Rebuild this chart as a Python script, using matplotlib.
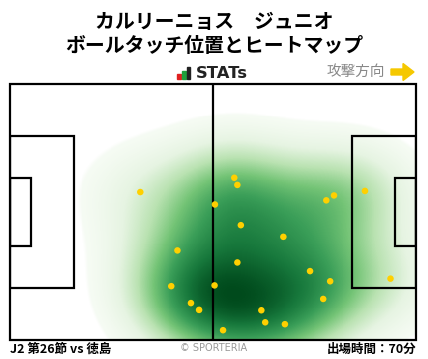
import numpy as np
import matplotlib
matplotlib.use("Agg")
import matplotlib.pyplot as plt
from matplotlib.patches import Rectangle, Polygon
from matplotlib.colors import LinearSegmentedColormap, Normalize

plt.rcParams['font.family'] = ['Noto Sans CJK JP', 'DejaVu Sans']

# Ball touch positions (metres, pitch 105 x 68, attacking to the right)
touch_x = [33.7, 58.0, 58.8, 53.0, 59.7, 43.3, 70.7, 58.8, 41.7, 52.9,
           46.8, 48.9, 55.1, 65.0, 66.0, 71.1, 77.6, 82.8, 81.0, 81.8,
           83.8, 91.8, 98.4]
touch_y = [39.3, 43.1, 41.2, 36.0, 30.5, 23.8, 27.4, 20.6, 14.3, 14.5,
           9.8, 8.0, 2.6, 7.9, 4.7, 4.2, 18.3, 15.6, 10.9, 37.1,
           38.4, 39.6, 16.3]

title_1 = "カルリーニョス　ジュニオ"
title_2 = "ボールタッチ位置とヒートマップ"
footer_left = "J2 第26節 vs 徳島"
footer_right = "出場時間：70分"

W, H = 428, 359
fig = plt.figure(figsize=(W / 100, H / 100), dpi=100)

# pitch axes
ax = fig.add_axes([10 / W, (H - 340) / H, 406 / W, 256 / H])
ax.set_xlim(0, 105)
ax.set_ylim(0, 68)
ax.axis('off')

# heatmap from a gaussian kernel over the touches
gx, gy = np.meshgrid(np.linspace(0, 105, 420), np.linspace(0, 68, 260))
dens = np.zeros_like(gx)
sx, sy = 12.0, 10.0
for px, py in zip(touch_x, touch_y):
    dens += np.exp(-((gx - px) ** 2 / (2 * sx ** 2) + (gy - py) ** 2 / (2 * sy ** 2)))
dens /= dens.max()
thr = 0.065
cmap = LinearSegmentedColormap.from_list(
    'g', ['#f7fcf5', '#e6f4e2', '#b9e2b1', '#74c476', '#3a9e58', '#17783c', '#004a1c'])
rgba = cmap(Normalize(thr, 1, clip=True)(dens))
rgba[..., 3] = np.clip((dens - thr) / 0.01, 0, 1)
ax.imshow(rgba, extent=(0, 105, 0, 68), origin='lower',
          aspect='auto', interpolation='nearest', zorder=1)

lw = 1.6
line_kw = dict(fill=False, ec='black', lw=lw, zorder=3)
ax.add_patch(Rectangle((0, 0), 105, 68, **line_kw, clip_on=False))
ax.plot([52.5, 52.5], [0, 68], color='black', lw=lw, zorder=3)
ax.add_patch(Rectangle((0, 13.84), 16.5, 40.32, **line_kw))
ax.add_patch(Rectangle((105 - 16.5, 13.84), 16.5, 40.32, **line_kw))
ax.add_patch(Rectangle((0, 24.84), 5.5, 18.32, **line_kw))
ax.add_patch(Rectangle((105 - 5.5, 24.84), 5.5, 18.32, **line_kw))

ax.scatter(touch_x, touch_y, s=22, color='#ffd000', edgecolors='none', zorder=4)

# overlay in pixel coordinates for header / footer
ov = fig.add_axes([0, 0, 1, 1], zorder=-1)
ov.set_xlim(0, W)
ov.set_ylim(H, 0)
ov.axis('off')

ov.text(214, 21, title_1, ha='center', va='center', fontsize=14.3, fontweight='bold')
ov.text(214, 46, title_2, ha='center', va='center', fontsize=14.3, fontweight='bold')

# STATs logo
ov.add_patch(Rectangle((177, 74), 4, 5, color='#e02020'))
ov.add_patch(Rectangle((182, 71), 4, 8, color='#1fa03c'))
ov.add_patch(Rectangle((187, 67), 3.5, 12, color='#222222'))
ov.text(196, 73, "STATs", ha='left', va='center', fontsize=11.8, fontweight='bold',
        family='DejaVu Sans', color='#222222')

ov.text(385, 72, "攻撃方向", ha='right', va='center', fontsize=10.5, color='#888888')
ov.add_patch(Polygon([(391, 69), (403, 69), (403, 63.5), (414, 72), (403, 80.5),
                      (403, 75), (391, 75)], closed=True, color='#f5c800'))

ov.text(10, 349, footer_left, ha='left', va='center', fontsize=9, fontweight='bold')
ov.text(214, 348, "© SPORTERIA", ha='center', va='center', fontsize=7,
        color='#999999', family='DejaVu Sans')
ov.text(416, 349, footer_right, ha='right', va='center', fontsize=9, fontweight='bold')

fig.savefig('out.png', dpi=100, facecolor='white')
